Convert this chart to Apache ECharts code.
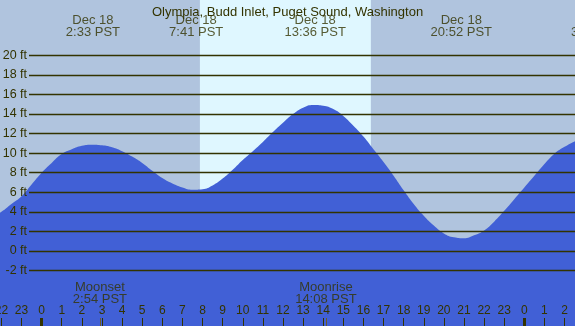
<!DOCTYPE html>
<html><head><meta charset="utf-8">
<script src="https://cdn.jsdelivr.net/npm/echarts@6/dist/echarts.min.js"></script>
<style>html,body{margin:0;padding:0;background:#b0c4de}#c{width:575px;height:326px}</style>
</head><body><div id="c"></div>
<script>
const titleText = 'Olympia, Budd Inlet, Puget Sound, Washington';
const tideHours = [-3, -2.5, -2, -1.5, -1, -0.5, 0, 0.5, 1, 1.5, 2, 2.5, 3, 3.5, 4, 4.5, 5, 5.5, 6, 6.5, 7, 7.5, 8, 8.5, 9, 9.5, 10, 10.5, 11, 11.5, 12, 12.5, 13, 13.5, 14, 14.5, 15, 15.5, 16, 16.5, 17, 17.5, 18, 18.5, 19, 19.5, 20, 20.5, 21, 21.5, 22, 22.5, 23, 23.5, 24, 24.5, 25, 25.5, 26, 26.5, 27];
const tideFeet  = [2.8, 3.4, 4.0, 4.8, 5.6, 6.8, 8.0, 9.0, 9.9, 10.4, 10.75, 10.86, 10.8, 10.6, 10.2, 9.65, 9.0, 8.2, 7.45, 6.9, 6.5, 6.27, 6.32, 6.7, 7.4, 8.3, 9.3, 10.2, 11.15, 12.15, 13.1, 14.0, 14.65, 14.93, 14.85, 14.5, 13.8, 12.8, 11.7, 10.4, 9.1, 7.7, 6.2, 4.8, 3.6, 2.6, 1.8, 1.4, 1.3, 1.6, 2.1, 3.0, 4.1, 5.3, 6.5, 7.7, 8.9, 9.95, 10.65, 11.2, 11.7];
const eventHours = [2.55, 7.683, 13.6, 20.867, 27.667];
const eventLabels = ['Dec 18\n2:33 PST', 'Dec 18\n7:41 PST', 'Dec 18\n13:36 PST', 'Dec 18\n20:52 PST', 'Dec 19\n3:40 PST'];
const moonHours = [2.9, 14.133];
const moonLabels = ['Moonset\n2:54 PST', 'Moonrise\n14:08 PST'];
const daylight = [7.87, 16.37];
const hourTicks = [-2,-1,0,1,2,3,4,5,6,7,8,9,10,11,12,13,14,15,16,17,18,19,20,21,22,23,24,25,26];
const midnightTicks = [0, 24];
const ftTicks = [-2, 0, 2, 4, 6, 8, 10, 12, 14, 16, 18, 20];

const INK = '#333300';
const FONT = 'Liberation Sans, Arial, sans-serif';
const X_MIN = -2.07, X_MAX = 26.52;
const Y_MIN = -7.665, Y_MAX = 25.65;

const chart = echarts.init(document.getElementById('c'));
const hiddenLine = { show: false, onZero: false };
chart.setOption({
  animation: false,
  backgroundColor: '#b0c4de',
  title: { text: titleText, left: 'center', top: 1, textStyle: { fontFamily: FONT, fontSize: 13, fontWeight: 'normal', color: INK } },
  grid: [
    { left: 0, right: 0, top: 0, bottom: 0, containLabel: false, outerBoundsMode: 'none' },
    { left: 29, right: 0, top: 55.3, bottom: 55.4, containLabel: false, outerBoundsMode: 'none' }
  ],
  xAxis: [
    { type: 'value', gridIndex: 0, min: X_MIN, max: X_MAX, position: 'bottom', z: 10,
      axisLine: hiddenLine, splitLine: { show: false },
      axisTick: { show: true, inside: true, length: 8, customValues: hourTicks, lineStyle: { color: INK, width: 1 } },
      axisLabel: { show: true, inside: true, margin: 9, customValues: hourTicks, color: INK, fontFamily: FONT, fontSize: 12,
        formatter: v => String(((Math.round(v) % 24) + 24) % 24) } },
    { type: 'value', gridIndex: 0, min: X_MIN, max: X_MAX, position: 'bottom', z: 11,
      axisLine: hiddenLine, splitLine: { show: false }, axisLabel: { show: false },
      axisTick: { show: true, inside: true, length: 8, customValues: midnightTicks, lineStyle: { color: INK, width: 3 } } },
    { type: 'value', gridIndex: 0, min: X_MIN, max: X_MAX, position: 'bottom', z: 11,
      axisLine: hiddenLine, splitLine: { show: false }, axisLabel: { show: false },
      axisTick: { show: true, inside: true, length: 8, customValues: moonHours, lineStyle: { color: '#6b5a2a', width: 1 } } },
    { type: 'value', gridIndex: 1, min: 0, max: 1, show: false }
  ],
  yAxis: [
    { type: 'value', gridIndex: 0, min: Y_MIN, max: Y_MAX, show: false },
    { type: 'value', gridIndex: 1, min: -2, max: 20, interval: 2, z: 10,
      axisLine: hiddenLine, axisTick: { show: false },
      splitLine: { show: true, lineStyle: { color: INK, width: 1.3 } },
      axisLabel: { color: INK, fontFamily: FONT, fontSize: 12.5, margin: 2, customValues: ftTicks, formatter: '{value} ft' } }
  ],
  series: [
    { type: 'line', xAxisIndex: 0, yAxisIndex: 0, data: [], z: 1,
      markArea: { silent: true, itemStyle: { color: '#dff7ff' }, data: [[{ xAxis: daylight[0] }, { xAxis: daylight[1] }]] } },
    { type: 'line', xAxisIndex: 0, yAxisIndex: 0, z: 3, smooth: 0.5, symbol: 'none',
      lineStyle: { width: 0 }, areaStyle: { color: '#4160d6', opacity: 1, origin: 'start' },
      data: tideHours.map((h, i) => [h, tideFeet[i]]) },
    { type: 'scatter', xAxisIndex: 0, yAxisIndex: 0, z: 12, clip: false, symbolSize: 0,
      label: { show: true, position: 'inside', formatter: p => p.data[2], color: INK, fontFamily: FONT, fontSize: 13, lineHeight: 12.5, align: 'center', verticalAlign: 'middle' },
      data: eventHours.map((h, i) => [h, 22.95, eventLabels[i]]) },
    { type: 'scatter', xAxisIndex: 0, yAxisIndex: 0, z: 12, clip: false, symbolSize: 0,
      label: { show: true, position: 'inside', formatter: p => p.data[2], color: INK, fontFamily: FONT, fontSize: 13, lineHeight: 12, align: 'center', verticalAlign: 'middle' },
      data: moonHours.map((h, i) => [h, -4.32, moonLabels[i]]) }
  ]
});
</script></body></html>
